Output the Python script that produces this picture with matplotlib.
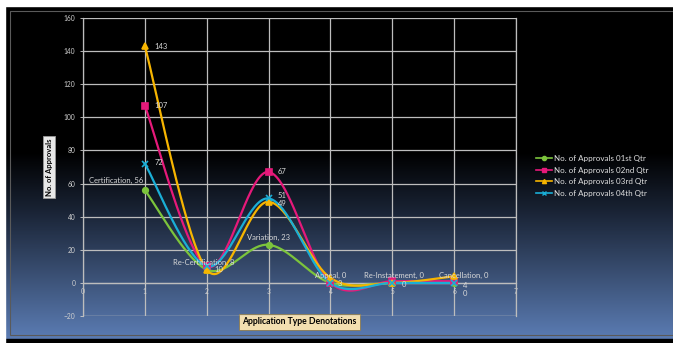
import numpy as np
import matplotlib
matplotlib.use("Agg")
import matplotlib.pyplot as plt
from matplotlib.colors import LinearSegmentedColormap
from matplotlib.patches import Rectangle

categories = ["Certification", "Re-Certification", "Variation", "Appeal", "Re-Instatement", "Cancellation"]
x_vals = [1, 2, 3, 4, 5, 6]
q1 = [56, 8, 23, 0, 0, 0]
q2 = [107, 10, 67, 0, 1, 1]
q3 = [143, 8, 49, 3, 0, 4]
q4 = [72, 10, 51, 0, 0, 0]
series_names = ["No. of Approvals 01st Qtr", "No. of Approvals 02nd Qtr",
                "No. of Approvals 03rd Qtr", "No. of Approvals 04th Qtr"]
colors = ["#7cc43c", "#e6197a", "#f7b500", "#1aaed6"]
markers = ["o", "s", "^", "x"]

plt.rcParams['font.family'] = ['Lato', 'DejaVu Sans']

def smooth(xs, ys, n=40):
    xs = np.asarray(xs, float); ys = np.asarray(ys, float)
    P = np.column_stack([xs, ys])
    out = []
    for i in range(len(P) - 1):
        p0 = P[i - 1] if i > 0 else P[i]
        p1 = P[i]; p2 = P[i + 1]
        p3 = P[i + 2] if i + 2 < len(P) else P[i + 1]
        c1 = p1 + (p2 - p0) / 6.0
        c2 = p2 - (p3 - p1) / 6.0
        t = np.linspace(0, 1, n)[:, None]
        seg = (1 - t) ** 3 * p1 + 3 * (1 - t) ** 2 * t * c1 + 3 * (1 - t) * t ** 2 * c2 + t ** 3 * p2
        out.append(seg if i == 0 else seg[1:])
    s = np.vstack(out)
    return s[:, 0], s[:, 1]

fig = plt.figure(figsize=(6.73, 3.43), dpi=100)
fig.patch.set_facecolor("white")

# background with gradient
bg = fig.add_axes([0, 0, 1, 1], zorder=0)
bg.set_xlim(0, 673); bg.set_ylim(343, 0); bg.axis("off")
cmap = LinearSegmentedColormap.from_list("g", [(0, "#000000"), (0.44, "#000000"), (0.62, "#1a2436"),
                                               (1.0, "#5b7cb3")])
grad = np.linspace(0, 1, 256)[:, None]
bg.imshow(grad, cmap=cmap, extent=[5, 673, 339, 6], aspect="auto", zorder=0)
bg.add_patch(Rectangle((5, 339), 668, 4, color="black", zorder=1))
bg.add_patch(Rectangle((10, 11), 663, 324, fill=False, edgecolor="#5a5a5a", lw=0.8, zorder=1))
bg.add_patch(Rectangle((0, 0), 5, 343, color="white", zorder=2))
bg.add_patch(Rectangle((0, 0), 673, 6, color="white", zorder=2))

ax = fig.add_axes([83 / 673, 1 - 316 / 343, (516 - 83) / 673, (316 - 18) / 343], zorder=2)
ax.set_facecolor("none")
ax.set_xlim(0, 7)
ax.set_ylim(-20, 160)
ax.set_xticks(range(0, 8))
ax.set_yticks(range(-20, 161, 20))
ax.grid(True, color="#bdbdbd", lw=0.9)
for sp in ax.spines.values():
    sp.set_color("#bdbdbd"); sp.set_linewidth(0.9)
ax.spines["top"].set_visible(False)
ax.spines["bottom"].set_position(("data", 0))
ax.tick_params(axis="both", colors="#d0d0d0", labelsize=4.8, length=2, width=0.6)
ax.tick_params(axis="x", pad=2)
ax.axhline(-20, color="#bdbdbd", lw=0.9)

for ys, c, m, name in zip([q1, q2, q3, q4], colors, markers, series_names):
    sx, sy = smooth(x_vals, ys)
    ax.plot(sx, sy, color=c, lw=1.6, zorder=3)
    ax.plot(x_vals, ys, ls="none", marker=m, color=c, ms=4 if m != "x" else 5,
            mew=1.2, zorder=4)
    ax.plot([], [], color=c, marker=m, ms=3, lw=1.2, label=name)

lab = dict(color="#d9d9d9", fontsize=5.5, zorder=5)
# category labels (Q1)
ax.text(x_vals[0] - 0.02, q1[0] + 4, f"{categories[0]}, {q1[0]}", ha="right", va="bottom", **lab)
ax.text(x_vals[1] - 0.55, q1[1] + 2.5, f"{categories[1]}, {q1[1]}", ha="left", va="bottom", **lab)
ax.text(x_vals[2] - 0.35, q1[2] + 2.5, f"{categories[2]}, {q1[2]}", ha="left", va="bottom", **lab)
ax.text(x_vals[3] - 0.25, q1[3] + 2.5, f"{categories[3]}, {q1[3]}", ha="left", va="bottom", **lab)
ax.text(x_vals[4] - 0.45, q1[4] + 2.5, f"{categories[4]}, {q1[4]}", ha="left", va="bottom", **lab)
ax.text(x_vals[5] - 0.25, q1[5] + 2.5, f"{categories[5]}, {q1[5]}", ha="left", va="bottom", **lab)
# value labels
ax.text(x_vals[0] + 0.15, q3[0], f"{q3[0]}", ha="left", va="center", **lab)
ax.text(x_vals[0] + 0.15, q2[0], f"{q2[0]}", ha="left", va="center", **lab)
ax.text(x_vals[0] + 0.15, q4[0] + 1, f"{q4[0]}", ha="left", va="center", **lab)
ax.text(x_vals[2] + 0.15, q2[2], f"{q2[2]}", ha="left", va="center", **lab)
ax.text(x_vals[2] + 0.15, q4[2] + 1.5, f"{q4[2]}", ha="left", va="center", **lab)
ax.text(x_vals[2] + 0.15, q3[2] - 1, f"{q3[2]}", ha="left", va="center", **lab)
ax.text(x_vals[1] + 0.12, q2[1] - 2, f"{q2[1]}", ha="left", va="center", **lab)
ax.text(x_vals[3] + 0.12, q3[3] - 3.5, f"{q3[3]}", ha="left", va="center", **lab)
ax.text(x_vals[4] + 0.15, q3[4] - 1, f"{q3[4]}", ha="left", va="center", **lab)
ax.text(x_vals[5] + 0.14, q3[5] - 5.5, f"{q3[5]}", ha="left", va="center", **lab)
ax.text(x_vals[5] + 0.14, q4[5] - 6.5, f"{q4[5]}", ha="left", va="center", **lab)

ax.set_ylabel("No. of Approvals", fontsize=5.5, fontweight="bold", color="black",
              bbox=dict(boxstyle="square,pad=0.3", fc="#e8e8e8", ec="#999999", lw=0.6),
              labelpad=10)
ax.yaxis.set_label_coords(-0.07, 0.5)
ax.set_xlabel("Application Type Denotations", fontsize=6.2, fontweight="bold", color="black",
              bbox=dict(boxstyle="square,pad=0.35", fc="#f3dfb0", ec="#8a7a50", lw=0.6))
ax.xaxis.set_label_coords(0.5, -0.005)
ax.xaxis.label.set_va("top")

leg = ax.legend(loc="center left", bbox_to_anchor=(1.03, 0.47), frameon=False, fontsize=5.8,
                labelcolor="#e0e0e0", handlelength=2.0, handletextpad=0.2, labelspacing=0.55)

fig.savefig("out.png", dpi=100, facecolor=fig.get_facecolor())
